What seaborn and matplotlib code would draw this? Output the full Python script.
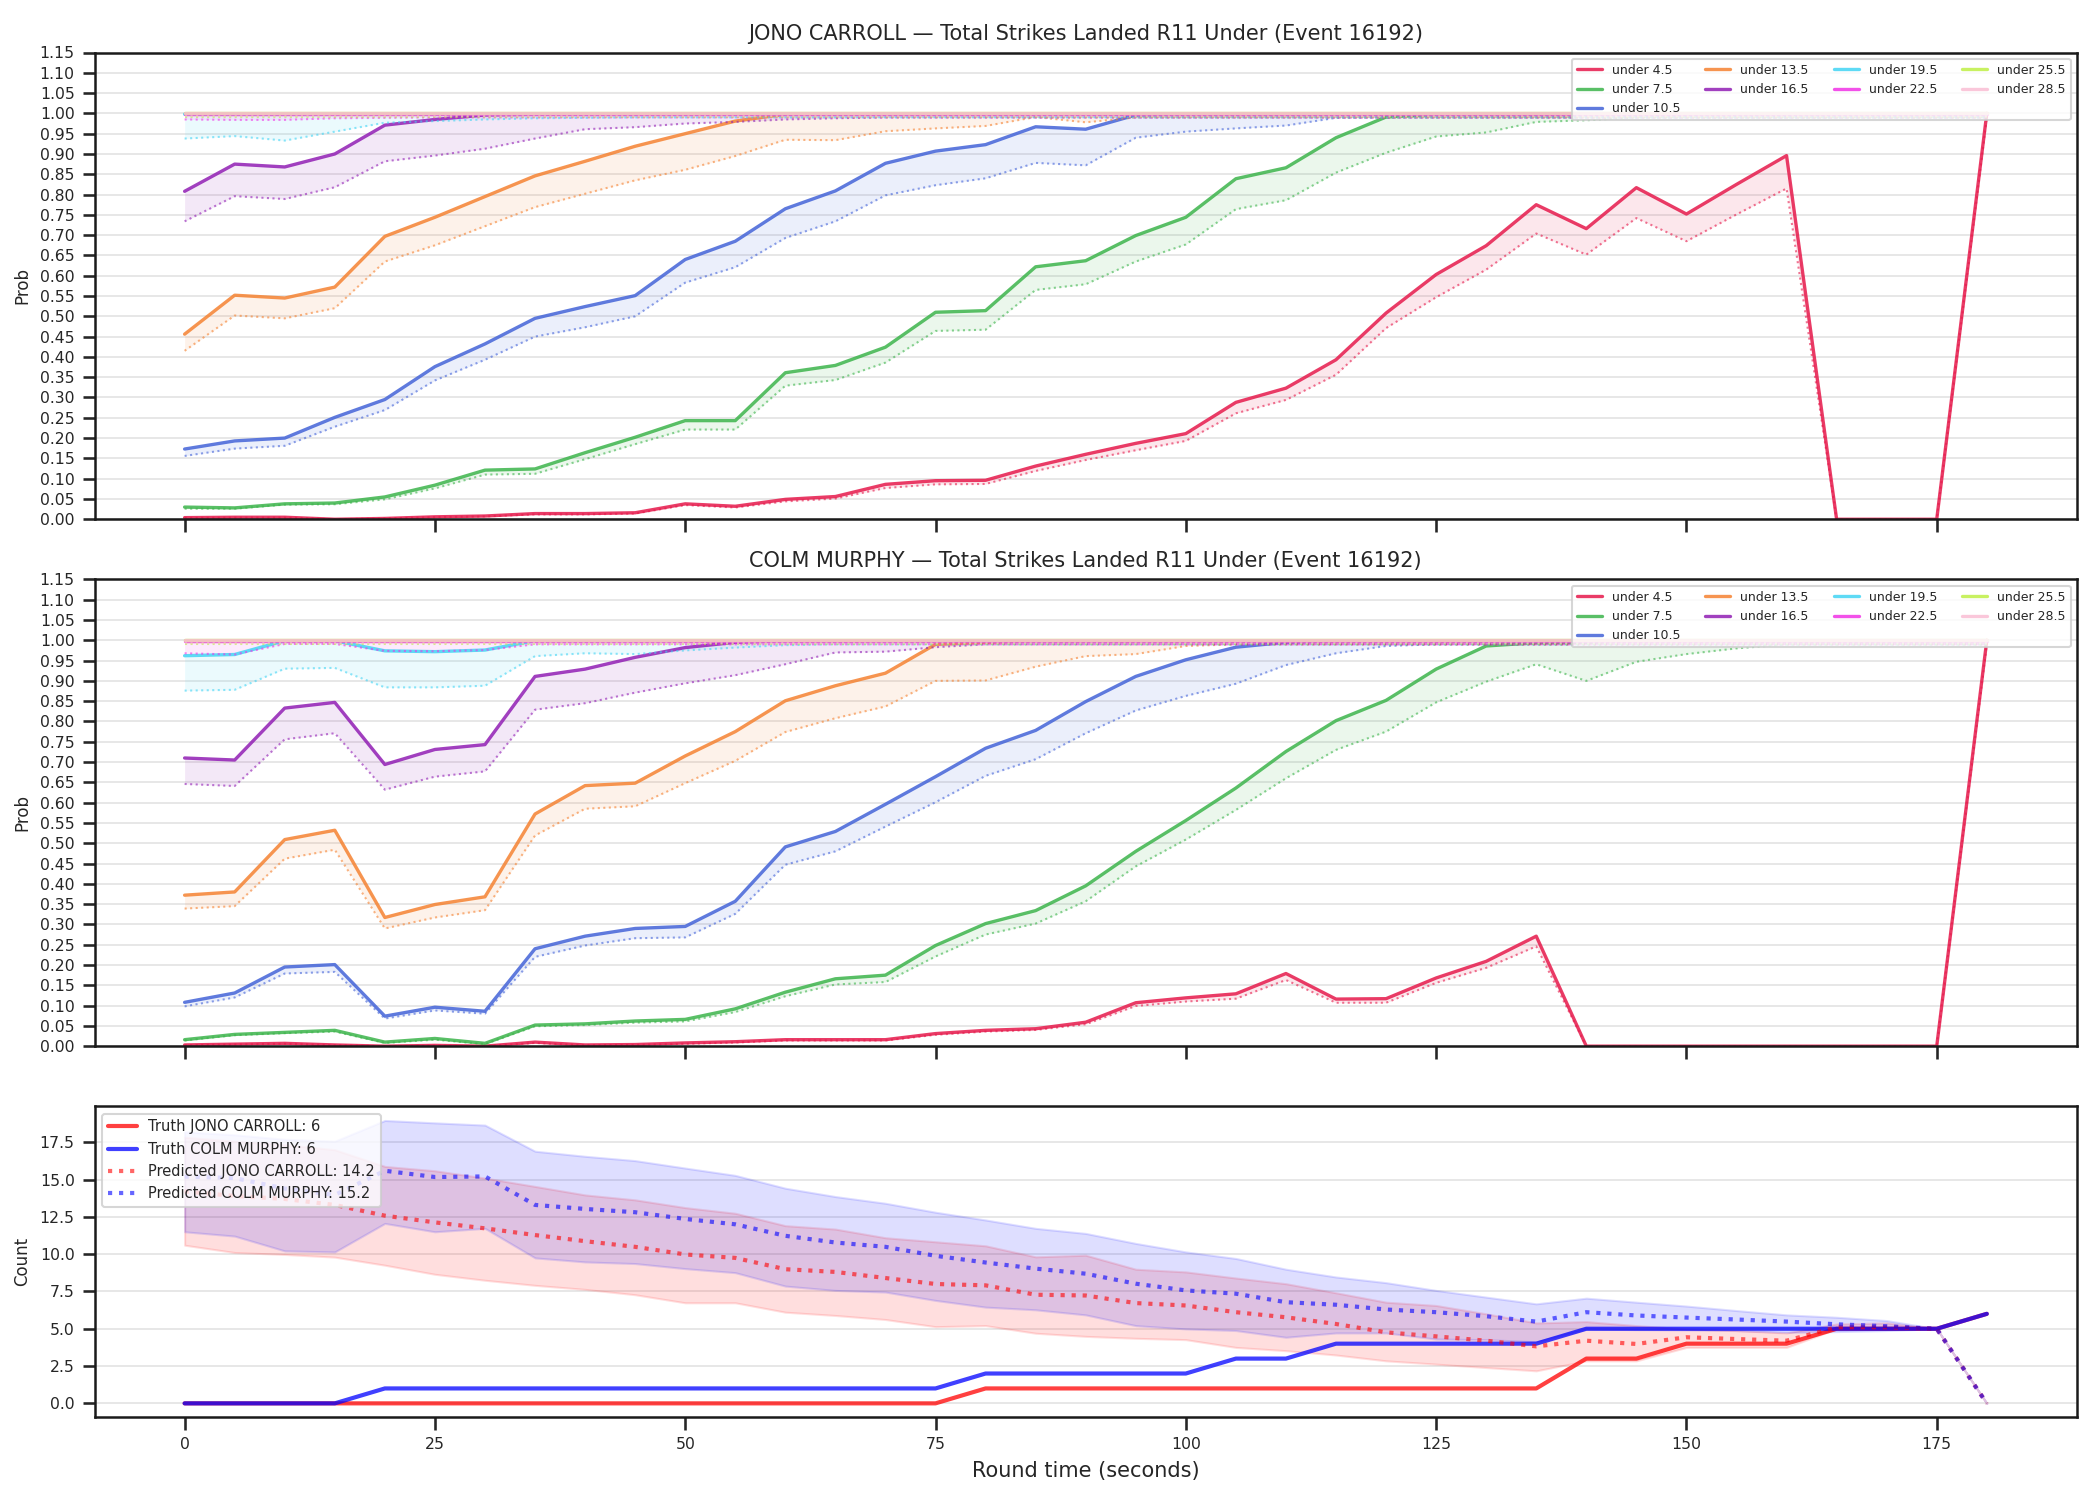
import matplotlib
matplotlib.use("Agg")
import matplotlib.pyplot as plt
import numpy as np
import seaborn as sns

# round time (seconds)
times = [0, 5, 10, 15, 20, 25, 30, 35, 40, 45, 50, 55, 60, 65, 70, 75, 80, 85, 90,
         95, 100, 105, 110, 115, 120, 125, 130, 135, 140, 145, 150, 155, 160, 165, 170, 175, 180]

thresholds = ["under 4.5", "under 7.5", "under 10.5", "under 13.5", "under 16.5",
              "under 19.5", "under 22.5", "under 25.5", "under 28.5"]
colors = ["#e6194b", "#3cb44b", "#4363d8", "#f58231", "#911eb4",
          "#42d4f4", "#f032e6", "#bfef45", "#fabed4"]

# ---------------- JONO CARROLL : prob (solid) and lower band (dotted)
jono_u45 = [0.004, 0.005, 0.005, 0.0, 0.002, 0.006, 0.008, 0.014, 0.014, 0.016,
            0.038, 0.032, 0.049, 0.056, 0.086, 0.095, 0.096, 0.131, 0.160, 0.187,
            0.211, 0.288, 0.323, 0.393, 0.508, 0.603, 0.674, 0.775, 0.716, 0.817,
            0.752, 0.825, 0.896, 0.0, 0.0, 0.0, 1.0]
jono_u45_lo = [0.003, 0.004, 0.004, 0.0, 0.002, 0.005, 0.007, 0.012, 0.012, 0.014,
               0.035, 0.029, 0.044, 0.051, 0.077, 0.086, 0.087, 0.119, 0.146, 0.170,
               0.193, 0.261, 0.294, 0.356, 0.471, 0.547, 0.615, 0.704, 0.652, 0.742,
               0.685, 0.751, 0.815, 0.0, 0.0, 0.0, 0.99]
jono_u75 = [0.030, 0.028, 0.038, 0.040, 0.055, 0.084, 0.121, 0.124, 0.164, 0.202,
            0.243, 0.243, 0.361, 0.379, 0.424, 0.510, 0.514, 0.622, 0.637, 0.699,
            0.744, 0.839, 0.866, 0.940, 0.991, 0.998, 0.999, 0.999, 0.999, 0.999,
            0.999, 0.999, 0.999, 0.999, 0.999, 0.999, 0.999]
jono_u75_lo = [0.026, 0.026, 0.036, 0.037, 0.049, 0.076, 0.110, 0.112, 0.148, 0.185,
               0.221, 0.221, 0.329, 0.343, 0.386, 0.464, 0.467, 0.565, 0.579, 0.635,
               0.677, 0.764, 0.786, 0.854, 0.903, 0.943, 0.953, 0.979, 0.983, 0.990,
               0.990, 0.990, 0.990, 0.990, 0.990, 0.990, 0.990]
jono_u105 = [0.173, 0.193, 0.200, 0.251, 0.295, 0.376, 0.432, 0.495, 0.524, 0.551,
             0.640, 0.685, 0.765, 0.809, 0.877, 0.907, 0.923, 0.967, 0.961, 0.996,
             0.999, 0.999, 0.999, 0.999, 0.999, 0.999, 0.999, 0.999, 0.999, 0.999,
             0.999, 0.999, 0.999, 0.999, 0.999, 0.999, 0.999]
jono_u105_lo = [0.156, 0.174, 0.181, 0.228, 0.269, 0.342, 0.393, 0.450, 0.473, 0.500,
                0.583, 0.621, 0.693, 0.734, 0.798, 0.823, 0.840, 0.878, 0.872, 0.940,
                0.955, 0.963, 0.970, 0.989, 0.990, 0.990, 0.990, 0.990, 0.990, 0.990,
                0.990, 0.990, 0.990, 0.990, 0.990, 0.990, 0.990]
jono_u135 = [0.456, 0.552, 0.545, 0.572, 0.697, 0.744, 0.795, 0.846, 0.882, 0.919,
             0.950, 0.981, 0.998, 0.999, 0.999, 0.999, 0.999, 0.999, 0.999, 0.999,
             0.999, 0.999, 0.999, 0.999, 0.999, 0.999, 0.999, 0.999, 0.999, 0.999,
             0.999, 0.999, 0.999, 0.999, 0.999, 0.999, 0.999]
jono_u135_lo = [0.415, 0.502, 0.495, 0.520, 0.635, 0.675, 0.722, 0.769, 0.802, 0.835,
                0.861, 0.895, 0.935, 0.934, 0.956, 0.963, 0.969, 0.991, 0.978, 0.990,
                0.990, 0.990, 0.990, 0.990, 0.990, 0.990, 0.990, 0.990, 0.990, 0.990,
                0.990, 0.990, 0.990, 0.990, 0.990, 0.990, 0.990]
jono_u165 = [0.808, 0.875, 0.868, 0.900, 0.971, 0.985, 0.996, 0.998, 0.999, 0.999,
             0.999, 0.999, 0.999, 0.999, 0.999, 0.999, 0.999, 0.999, 0.999, 0.999,
             0.999, 0.999, 0.999, 0.999, 0.999, 0.999, 0.999, 0.999, 0.999, 0.999,
             0.999, 0.999, 0.999, 0.999, 0.999, 0.999, 0.999]
jono_u165_lo = [0.734, 0.796, 0.789, 0.818, 0.882, 0.896, 0.913, 0.938, 0.961, 0.966,
                0.975, 0.979, 0.985, 0.988, 0.990, 0.990, 0.990, 0.990, 0.990, 0.990,
                0.990, 0.990, 0.990, 0.990, 0.990, 0.990, 0.990, 0.990, 0.990, 0.990,
                0.990, 0.990, 0.990, 0.990, 0.990, 0.990, 0.990]
jono_u195 = [0.998, 0.998, 0.998, 0.999, 0.999, 0.999, 0.999, 0.999, 0.999, 0.999,
             0.999, 0.999, 0.999, 0.999, 0.999, 0.999, 0.999, 0.999, 0.999, 0.999,
             0.999, 0.999, 0.999, 0.999, 0.999, 0.999, 0.999, 0.999, 0.999, 0.999,
             0.999, 0.999, 0.999, 0.999, 0.999, 0.999, 0.999]
jono_u195_lo = [0.938, 0.944, 0.933, 0.955, 0.977, 0.981, 0.985, 0.988, 0.989, 0.990,
                0.990, 0.990, 0.990, 0.990, 0.990, 0.990, 0.990, 0.990, 0.990, 0.990,
                0.990, 0.990, 0.990, 0.990, 0.990, 0.990, 0.990, 0.990, 0.990, 0.990,
                0.990, 0.990, 0.990, 0.990, 0.990, 0.990, 0.990]
jono_u225 = [0.999, 0.999, 0.999, 0.999, 0.999, 0.999, 0.999, 0.999, 0.999, 0.999,
             0.999, 0.999, 0.999, 0.999, 0.999, 0.999, 0.999, 0.999, 0.999, 0.999,
             0.999, 0.999, 0.999, 0.999, 0.999, 0.999, 0.999, 0.999, 0.999, 0.999,
             0.999, 0.999, 0.999, 0.999, 0.999, 0.999, 0.999]
jono_u225_lo = [0.985, 0.984, 0.984, 0.988, 0.989, 0.990, 0.990, 0.990, 0.990, 0.990,
                0.990, 0.990, 0.990, 0.990, 0.990, 0.990, 0.990, 0.990, 0.990, 0.990,
                0.990, 0.990, 0.990, 0.990, 0.990, 0.990, 0.990, 0.990, 0.990, 0.990,
                0.990, 0.990, 0.990, 0.990, 0.990, 0.990, 0.990]
jono_u255 = [1.0, 1.0, 1.0, 1.0, 1.0, 1.0, 1.0, 1.0, 1.0, 1.0,
             1.0, 1.0, 1.0, 1.0, 1.0, 1.0, 1.0, 1.0, 1.0, 1.0,
             1.0, 1.0, 1.0, 1.0, 1.0, 1.0, 1.0, 1.0, 1.0, 1.0,
             1.0, 1.0, 1.0, 1.0, 1.0, 1.0, 1.0]
jono_u255_lo = [0.992, 0.992, 0.992, 0.992, 0.992, 0.992, 0.992, 0.992, 0.992, 0.992,
                0.992, 0.992, 0.992, 0.992, 0.992, 0.992, 0.992, 0.992, 0.992, 0.992,
                0.992, 0.992, 0.992, 0.992, 0.992, 0.992, 0.992, 0.992, 0.992, 0.992,
                0.992, 0.992, 0.992, 0.992, 0.992, 0.992, 0.992]
jono_u285 = [1.0, 1.0, 1.0, 1.0, 1.0, 1.0, 1.0, 1.0, 1.0, 1.0,
             1.0, 1.0, 1.0, 1.0, 1.0, 1.0, 1.0, 1.0, 1.0, 1.0,
             1.0, 1.0, 1.0, 1.0, 1.0, 1.0, 1.0, 1.0, 1.0, 1.0,
             1.0, 1.0, 1.0, 1.0, 1.0, 1.0, 1.0]
jono_u285_lo = [0.993, 0.993, 0.993, 0.993, 0.993, 0.993, 0.993, 0.993, 0.993, 0.993,
                0.993, 0.993, 0.993, 0.993, 0.993, 0.993, 0.993, 0.993, 0.993, 0.993,
                0.993, 0.993, 0.993, 0.993, 0.993, 0.993, 0.993, 0.993, 0.993, 0.993,
                0.993, 0.993, 0.993, 0.993, 0.993, 0.993, 0.993]

# ---------------- COLM MURPHY
colm_u45 = [0.003, 0.005, 0.007, 0.003, 0.0, 0.002, 0.0, 0.010, 0.003, 0.004,
            0.008, 0.011, 0.016, 0.016, 0.016, 0.031, 0.039, 0.043, 0.059, 0.107,
            0.119, 0.129, 0.179, 0.116, 0.117, 0.168, 0.209, 0.271, 0.0, 0.0,
            0.0, 0.0, 0.0, 0.0, 0.0, 0.0, 1.0]
colm_u45_lo = [0.002, 0.004, 0.006, 0.002, 0.0, 0.001, 0.0, 0.008, 0.002, 0.003,
               0.006, 0.009, 0.014, 0.014, 0.014, 0.028, 0.036, 0.040, 0.054, 0.099,
               0.110, 0.117, 0.163, 0.107, 0.107, 0.156, 0.193, 0.246, 0.0, 0.0,
               0.0, 0.0, 0.0, 0.0, 0.0, 0.0, 0.99]
colm_u75 = [0.016, 0.029, 0.034, 0.039, 0.010, 0.019, 0.007, 0.052, 0.055, 0.062,
            0.066, 0.092, 0.133, 0.166, 0.175, 0.248, 0.302, 0.334, 0.395, 0.480,
            0.556, 0.636, 0.726, 0.802, 0.852, 0.929, 0.986, 0.994, 0.995, 0.999,
            0.999, 0.999, 0.999, 0.999, 0.999, 0.999, 0.999]
colm_u75_lo = [0.014, 0.027, 0.032, 0.036, 0.008, 0.016, 0.005, 0.049, 0.052, 0.058,
               0.061, 0.084, 0.123, 0.152, 0.158, 0.221, 0.275, 0.302, 0.357, 0.443,
               0.509, 0.582, 0.660, 0.730, 0.775, 0.847, 0.898, 0.941, 0.900, 0.947,
               0.966, 0.980, 0.990, 0.990, 0.990, 0.990, 0.990]
colm_u105 = [0.108, 0.131, 0.195, 0.201, 0.074, 0.096, 0.086, 0.240, 0.271, 0.290,
             0.295, 0.357, 0.491, 0.529, 0.596, 0.664, 0.734, 0.778, 0.849, 0.911,
             0.952, 0.983, 0.995, 0.999, 0.999, 0.999, 0.999, 0.999, 0.999, 0.999,
             0.999, 0.999, 0.999, 0.999, 0.999, 0.999, 0.999]
colm_u105_lo = [0.098, 0.120, 0.179, 0.183, 0.068, 0.088, 0.080, 0.220, 0.248, 0.266,
                0.268, 0.326, 0.447, 0.480, 0.541, 0.601, 0.666, 0.707, 0.771, 0.827,
                0.863, 0.893, 0.939, 0.968, 0.986, 0.990, 0.990, 0.990, 0.990, 0.990,
                0.990, 0.990, 0.990, 0.990, 0.990, 0.990, 0.990]
colm_u135 = [0.372, 0.380, 0.509, 0.532, 0.317, 0.349, 0.368, 0.572, 0.642, 0.648,
             0.715, 0.775, 0.851, 0.888, 0.919, 0.990, 0.995, 0.999, 0.999, 0.999,
             0.999, 0.999, 0.999, 0.999, 0.999, 0.999, 0.999, 0.999, 0.999, 0.999,
             0.999, 0.999, 0.999, 0.999, 0.999, 0.999, 0.999]
colm_u135_lo = [0.339, 0.345, 0.462, 0.484, 0.290, 0.317, 0.335, 0.519, 0.585, 0.591,
                0.648, 0.703, 0.774, 0.808, 0.837, 0.900, 0.901, 0.935, 0.961, 0.966,
                0.986, 0.990, 0.990, 0.990, 0.990, 0.990, 0.990, 0.990, 0.990, 0.990,
                0.990, 0.990, 0.990, 0.990, 0.990, 0.990, 0.990]
colm_u165 = [0.710, 0.705, 0.833, 0.847, 0.694, 0.731, 0.743, 0.911, 0.929, 0.958,
             0.982, 0.995, 0.999, 0.999, 0.999, 0.999, 0.999, 0.999, 0.999, 0.999,
             0.999, 0.999, 0.999, 0.999, 0.999, 0.999, 0.999, 0.999, 0.999, 0.999,
             0.999, 0.999, 0.999, 0.999, 0.999, 0.999, 0.999]
colm_u165_lo = [0.646, 0.641, 0.756, 0.771, 0.632, 0.664, 0.677, 0.829, 0.845, 0.871,
                0.894, 0.914, 0.941, 0.970, 0.972, 0.983, 0.990, 0.990, 0.990, 0.990,
                0.990, 0.990, 0.990, 0.990, 0.990, 0.990, 0.990, 0.990, 0.990, 0.990,
                0.990, 0.990, 0.990, 0.990, 0.990, 0.990, 0.990]
colm_u195 = [0.962, 0.965, 0.999, 0.999, 0.974, 0.972, 0.976, 0.999, 0.999, 0.999,
             0.999, 0.999, 0.999, 0.999, 0.999, 0.999, 0.999, 0.999, 0.999, 0.999,
             0.999, 0.999, 0.999, 0.999, 0.999, 0.999, 0.999, 0.999, 0.999, 0.999,
             0.999, 0.999, 0.999, 0.999, 0.999, 0.999, 0.999]
colm_u195_lo = [0.876, 0.878, 0.930, 0.932, 0.884, 0.884, 0.888, 0.961, 0.968, 0.966,
                0.975, 0.982, 0.988, 0.990, 0.990, 0.990, 0.990, 0.990, 0.990, 0.990,
                0.990, 0.990, 0.990, 0.990, 0.990, 0.990, 0.990, 0.990, 0.990, 0.990,
                0.990, 0.990, 0.990, 0.990, 0.990, 0.990, 0.990]
colm_u225 = [0.999, 0.999, 0.999, 0.999, 0.999, 0.999, 0.999, 0.999, 0.999, 0.999,
             0.999, 0.999, 0.999, 0.999, 0.999, 0.999, 0.999, 0.999, 0.999, 0.999,
             0.999, 0.999, 0.999, 0.999, 0.999, 0.999, 0.999, 0.999, 0.999, 0.999,
             0.999, 0.999, 0.999, 0.999, 0.999, 0.999, 0.999]
colm_u225_lo = [0.968, 0.965, 0.991, 0.991, 0.974, 0.973, 0.976, 0.990, 0.990, 0.990,
                0.990, 0.990, 0.990, 0.990, 0.990, 0.990, 0.990, 0.990, 0.990, 0.990,
                0.990, 0.990, 0.990, 0.990, 0.990, 0.990, 0.990, 0.990, 0.990, 0.990,
                0.990, 0.990, 0.990, 0.990, 0.990, 0.990, 0.990]
colm_u255 = [1.0, 1.0, 1.0, 1.0, 1.0, 1.0, 1.0, 1.0, 1.0, 1.0,
             1.0, 1.0, 1.0, 1.0, 1.0, 1.0, 1.0, 1.0, 1.0, 1.0,
             1.0, 1.0, 1.0, 1.0, 1.0, 1.0, 1.0, 1.0, 1.0, 1.0,
             1.0, 1.0, 1.0, 1.0, 1.0, 1.0, 1.0]
colm_u255_lo = [0.992, 0.992, 0.992, 0.992, 0.992, 0.992, 0.992, 0.992, 0.992, 0.992,
                0.992, 0.992, 0.992, 0.992, 0.992, 0.992, 0.992, 0.992, 0.992, 0.992,
                0.992, 0.992, 0.992, 0.992, 0.992, 0.992, 0.992, 0.992, 0.992, 0.992,
                0.992, 0.992, 0.992, 0.992, 0.992, 0.992, 0.992]
colm_u285 = [1.0, 1.0, 1.0, 1.0, 1.0, 1.0, 1.0, 1.0, 1.0, 1.0,
             1.0, 1.0, 1.0, 1.0, 1.0, 1.0, 1.0, 1.0, 1.0, 1.0,
             1.0, 1.0, 1.0, 1.0, 1.0, 1.0, 1.0, 1.0, 1.0, 1.0,
             1.0, 1.0, 1.0, 1.0, 1.0, 1.0, 1.0]
colm_u285_lo = [0.993, 0.993, 0.993, 0.993, 0.993, 0.993, 0.993, 0.993, 0.993, 0.993,
                0.993, 0.993, 0.993, 0.993, 0.993, 0.993, 0.993, 0.993, 0.993, 0.993,
                0.993, 0.993, 0.993, 0.993, 0.993, 0.993, 0.993, 0.993, 0.993, 0.993,
                0.993, 0.993, 0.993, 0.993, 0.993, 0.993, 0.993]

# ---------------- counts
truth_jono = [0, 0, 0, 0, 0, 0, 0, 0, 0, 0, 0, 0, 0, 0, 0, 0, 1, 1, 1,
              1, 1, 1, 1, 1, 1, 1, 1, 1, 3, 3, 4, 4, 4, 5, 5, 5, 6]
truth_colm = [0, 0, 0, 0, 1, 1, 1, 1, 1, 1, 1, 1, 1, 1, 1, 1, 2, 2, 2,
              2, 2, 3, 3, 4, 4, 4, 4, 4, 5, 5, 5, 5, 5, 5, 5, 5, 6]
pred_jono = [14.2, 13.9, 13.7, 13.3, 12.58, 12.13, 11.73, 11.28, 10.87, 10.49,
             9.98, 9.75, 8.99, 8.81, 8.40, 8.00, 7.91, 7.28, 7.23, 6.72,
             6.56, 6.11, 5.77, 5.32, 4.76, 4.49, 4.20, 3.82, 4.20, 3.98,
             4.43, 4.31, 4.20, 5.1, 5.1, 5.0, 0.0]
pred_colm = [15.2, 15.1, 14.4, 13.97, 15.59, 15.17, 15.21, 13.30, 13.03, 12.81,
             12.36, 12.0, 11.23, 10.78, 10.49, 9.89, 9.44, 9.03, 8.69, 8.02,
             7.57, 7.35, 6.78, 6.61, 6.29, 6.11, 5.84, 5.48, 6.11, 5.89,
             5.75, 5.62, 5.48, 5.30, 5.17, 5.0, 0.0]
jono_hi = [17.84, 17.57, 17.34, 17.0, 15.88, 15.59, 15.1, 14.54, 13.97, 13.64,
           13.12, 12.74, 11.91, 11.68, 11.1, 10.83, 10.56, 9.82, 9.93, 8.99,
           8.81, 8.40, 8.02, 7.41, 6.78, 6.56, 6.0, 5.39, 5.48, 5.21,
           4.99, 4.88, 4.72, 5.32, 5.39, 5.0, 0.0]
jono_lo = [10.6, 10.11, 9.98, 9.80, 9.26, 8.65, 8.25, 7.91, 7.64, 7.28,
           6.74, 6.74, 6.11, 5.89, 5.62, 5.14, 5.21, 4.70, 4.49, 4.36,
           4.27, 3.75, 3.53, 3.24, 2.85, 2.63, 2.40, 2.18, 2.85, 2.85,
           3.75, 3.75, 3.75, 5.0, 5.0, 5.0, 0.0]
colm_hi = [18.2, 18.0, 17.7, 17.57, 18.96, 18.8, 18.65, 16.9, 16.56, 16.27,
           15.77, 15.28, 14.42, 13.86, 13.41, 12.81, 12.29, 11.73, 11.39, 10.72,
           10.15, 9.71, 8.99, 8.47, 8.09, 7.57, 7.12, 6.67, 7.05, 6.78,
           6.52, 6.22, 5.93, 5.77, 5.55, 5.0, 0.0]
colm_lo = [11.5, 11.21, 10.22, 10.15, 12.06, 11.5, 11.73, 9.75, 9.48, 9.37,
           9.03, 8.76, 7.86, 7.57, 7.46, 6.90, 6.45, 6.27, 5.93, 5.21,
           4.99, 4.88, 4.43, 4.72, 4.72, 4.31, 4.27, 4.13, 4.99, 4.94,
           4.92, 4.88, 4.76, 4.81, 4.88, 5.0, 0.0]

jono_mean = [jono_u45, jono_u75, jono_u105, jono_u135, jono_u165, jono_u195, jono_u225, jono_u255, jono_u285]
jono_low = [jono_u45_lo, jono_u75_lo, jono_u105_lo, jono_u135_lo, jono_u165_lo, jono_u195_lo, jono_u225_lo, jono_u255_lo, jono_u285_lo]
colm_mean = [colm_u45, colm_u75, colm_u105, colm_u135, colm_u165, colm_u195, colm_u225, colm_u255, colm_u285]
colm_low = [colm_u45_lo, colm_u75_lo, colm_u105_lo, colm_u135_lo, colm_u165_lo, colm_u195_lo, colm_u225_lo, colm_u255_lo, colm_u285_lo]

sns.set_theme(style="ticks")
plt.rcParams['font.family'] = ['DejaVu Sans']
plt.rcParams['axes.edgecolor'] = '#1a1a1a'
plt.rcParams['axes.linewidth'] = 1.2


def prob_panel(ax, means, lows, title):
    for lab, col, m, lo in zip(thresholds, colors, means, lows):
        sns.lineplot(x=times, y=m, ax=ax, color=col, lw=1.6, alpha=0.85, label=lab, errorbar=None)
        sns.lineplot(x=times, y=lo, ax=ax, color=col, lw=1.0, alpha=0.6, linestyle=':', errorbar=None)
        ax.fill_between(times, lo, m, color=col, alpha=0.1, lw=0)
    ax.set_ylim(0, 1.15)
    ax.set_yticks(np.arange(0, 1.151, 0.05))
    ax.set_ylabel("Prob", fontsize=8)
    ax.set_title(title, fontsize=10)
    ax.grid(axis='y', color='#e3e3e3', lw=0.8)
    ax.tick_params(labelsize=7.5)
    ax.legend(loc='upper right', ncol=4, fontsize=6, framealpha=0.8)


fig, axes = plt.subplots(3, 1, figsize=(14, 10), dpi=150, sharex=True,
                         gridspec_kw={'height_ratios': [3, 3, 2]})
prob_panel(axes[0], jono_mean, jono_low, "JONO CARROLL \u2014 Total Strikes Landed R11 Under (Event 16192)")
prob_panel(axes[1], colm_mean, colm_low, "COLM MURPHY \u2014 Total Strikes Landed R11 Under (Event 16192)")

ax = axes[2]
sns.lineplot(x=times, y=truth_jono, ax=ax, color='red', alpha=0.75, lw=2, label="Truth JONO CARROLL: 6", errorbar=None)
sns.lineplot(x=times, y=truth_colm, ax=ax, color='blue', alpha=0.75, lw=2, label="Truth COLM MURPHY: 6", errorbar=None)
sns.lineplot(x=times, y=pred_jono, ax=ax, color='red', alpha=0.6, lw=2, linestyle=':', label="Predicted JONO CARROLL: 14.2", errorbar=None)
sns.lineplot(x=times, y=pred_colm, ax=ax, color='blue', alpha=0.6, lw=2, linestyle=':', label="Predicted COLM MURPHY: 15.2", errorbar=None)
ax.fill_between(times, jono_lo, jono_hi, color='red', alpha=0.13)
ax.fill_between(times, colm_lo, colm_hi, color='blue', alpha=0.13)
ax.set_ylabel("Count", fontsize=8)
ax.set_xlabel("Round time (seconds)", fontsize=10)
ax.grid(axis='y', color='#e3e3e3', lw=0.8)
ax.tick_params(labelsize=7.5)
ax.legend(loc='upper left', fontsize=7, framealpha=0.8)

fig.subplots_adjust(left=0.045, right=0.989, top=0.965, bottom=0.055, hspace=0.145)
fig.savefig("out.png", dpi=150)
